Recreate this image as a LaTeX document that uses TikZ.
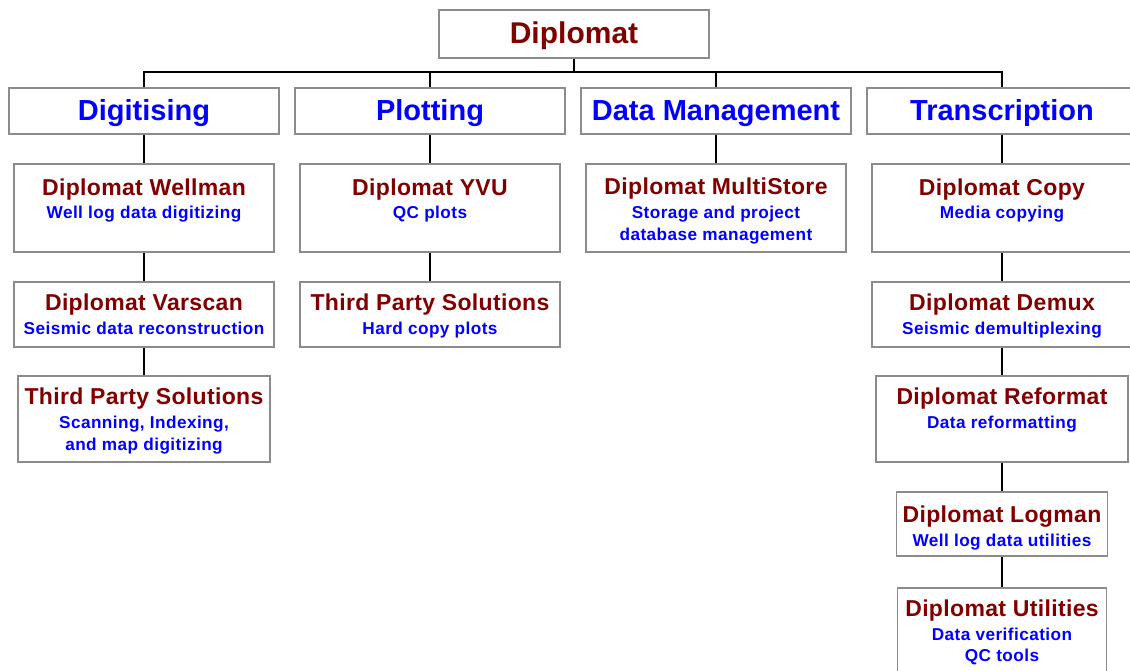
\documentclass[tikz,border=0pt]{standalone}
\usepackage{fontspec}
\setmainfont{Liberation Sans}
\newfontfamily\namefont{Liberation Sans}[LetterSpace=1.5]
\newfontfamily\subfont{Liberation Sans}[LetterSpace=2.5]
\definecolor{boxgray}{RGB}{140,140,140}
\definecolor{darkred}{RGB}{128,0,0}
\definecolor{pureblue}{RGB}{0,0,255}
\tikzset{
  box/.style={draw=boxgray, line width=1.5pt, fill=white, inner sep=0pt},
  conn/.style={draw=black, line width=1.5pt},
  titletext/.style={anchor=base, inner sep=0pt, text=darkred, font=\fontsize{30}{34}\selectfont\bfseries},
  cattext/.style={anchor=base, inner sep=0pt, text=pureblue, font=\fontsize{29}{33}\selectfont\bfseries},
  nametext/.style={anchor=base, inner sep=0pt, text=darkred, font=\namefont\fontsize{23}{26}\selectfont\bfseries},
  subtext/.style={anchor=base, inner sep=0pt, text=pureblue, font=\subfont\fontsize{17.2}{22}\selectfont\bfseries},
}
\begin{document}
\begin{tikzpicture}[x=1pt,y=-1pt]
\useasboundingbox (0,0) rectangle (1130,670);
% boxes
\node[box, minimum width=270pt, minimum height=48pt] (top) at (574,34) {};
\node[box, minimum width=270pt, minimum height=46pt] (dig) at (144,111) {};
\node[box, minimum width=270pt, minimum height=46pt] (plot) at (430,111) {};
\node[box, minimum width=270pt, minimum height=46pt] (dm) at (716,111) {};
\node[box, minimum width=270pt, minimum height=46pt] (tr) at (1002,111) {};
\node[box, minimum width=260pt, minimum height=88pt] (wellman) at (144,208) {};
\node[box, minimum width=260pt, minimum height=88pt] (yvu) at (430,208) {};
\node[box, minimum width=260pt, minimum height=88pt] (ms) at (716,208) {};
\node[box, minimum width=260pt, minimum height=88pt] (copy) at (1002,208) {};
\node[box, minimum width=260pt, minimum height=65pt] (varscan) at (144,314.5) {};
\node[box, minimum width=260pt, minimum height=65pt] (tpsp) at (430,314.5) {};
\node[box, minimum width=260pt, minimum height=65pt] (demux) at (1002,314.5) {};
\node[box, minimum width=252pt, minimum height=86pt] (tpsd) at (144,419) {};
\node[box, minimum width=252pt, minimum height=86pt] (reformat) at (1002,419) {};
\node[box, minimum width=211pt, minimum height=64pt] (logman) at (1002,524) {};
\node[box, minimum width=209pt, minimum height=104pt] (util) at (1002,640) {};
% connectors
\coordinate (bus) at (574,72);
\draw[conn] (top.south) -- (bus);
\draw[conn] (dig.north) -- (dig.north |- bus) -- (tr.north |- bus) -- (tr.north);
\draw[conn] (plot.north) -- (plot.north |- bus);
\draw[conn] (dm.north) -- (dm.north |- bus);
\draw[conn] (dig.south) -- (wellman.north);
\draw[conn] (wellman.south) -- (varscan.north);
\draw[conn] (varscan.south) -- (tpsd.north);
\draw[conn] (plot.south) -- (yvu.north);
\draw[conn] (yvu.south) -- (tpsp.north);
\draw[conn] (dm.south) -- (ms.north);
\draw[conn] (tr.south) -- (copy.north);
\draw[conn] (copy.south) -- (demux.north);
\draw[conn] (demux.south) -- (reformat.north);
\draw[conn] (reformat.south) -- (logman.north);
\draw[conn] (logman.south) -- (util.north);
% texts
\node[titletext] (topT) at (574,43.3) {Diplomat};
\node[cattext] (digT) at (144,120.7) {Digitising};
\node[cattext] (plotT) at (430,120.7) {Plotting};
\node[cattext] (dmT) at (716,120.7) {Data Management};
\node[cattext] (trT) at (1002,120.7) {Transcription};
\node[nametext] (wellmanT) at (144,195) {Diplomat Wellman};
\node[subtext] (wellmanS) at (144,218.5) {Well log data digitizing};
\node[nametext] (yvuT) at (430,195) {Diplomat YVU};
\node[subtext] (yvuS) at (430,218.5) {QC plots};
\node[nametext] (msT) at (716,194.5) {Diplomat MultiStore};
\node[subtext] (msS1) at (716,218.5) {Storage and project};
\node[subtext] (msS2) at (716,240.5) {database management};
\node[nametext] (copyT) at (1002,195) {Diplomat Copy};
\node[subtext] (copyS) at (1002,218.5) {Media copying};
\node[nametext] (varscanT) at (144,310.7) {Diplomat Varscan};
\node[subtext] (varscanS) at (144,334.3) {Seismic data reconstruction};
\node[nametext] (tpspT) at (430,310.7) {Third Party Solutions};
\node[subtext] (tpspS) at (430,334.3) {Hard copy plots};
\node[nametext] (demuxT) at (1002,310.7) {Diplomat Demux};
\node[subtext] (demuxS) at (1002,334.3) {Seismic demultiplexing};
\node[nametext] (tpsdT) at (144,404) {Third Party Solutions};
\node[subtext] (tpsdS1) at (144,428.3) {Scanning, Indexing,};
\node[subtext] (tpsdS2) at (144,450) {and map digitizing};
\node[nametext] (reformatT) at (1002,404) {Diplomat Reformat};
\node[subtext] (reformatS) at (1002,428.3) {Data reformatting};
\node[nametext] (logmanT) at (1002,522.7) {Diplomat Logman};
\node[subtext] (logmanS) at (1002,546) {Well log data utilities};
\node[nametext] (utilT) at (1002,616.7) {Diplomat Utilities};
\node[subtext] (utilS1) at (1002,640) {Data verification};
\node[subtext] (utilS2) at (1002,661.7) {QC tools};
\end{tikzpicture}
\end{document}
